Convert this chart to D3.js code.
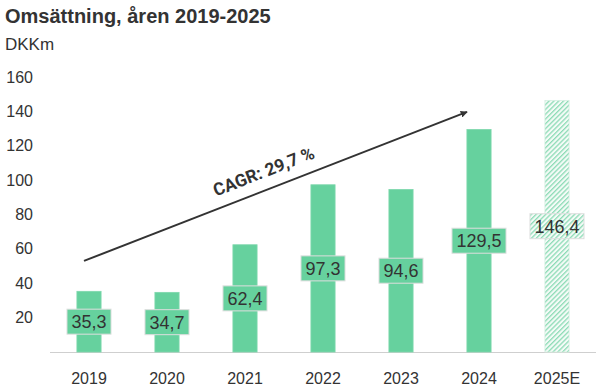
<!DOCTYPE html>
<html lang="sv">
<head>
<meta charset="UTF-8">
<title>Omsättning, åren 2019-2025</title>
<script src="https://d3js.org/d3.v7.min.js"></script>
<style>
    body { margin: 0; background: #fff; }
    svg text { font-family: Arial, "Liberation Sans", sans-serif; fill: #333; }
</style>
</head>
<body>
<div id="chart"></div>
<script>
// data
const years = ["2019", "2020", "2021", "2022", "2023", "2024", "2025E"];
const revenue = [35.3, 34.7, 62.4, 97.3, 94.6, 129.5, 146.4];
const forecast = [false, false, false, false, false, false, true];
const yTicks = [20, 40, 60, 80, 100, 120, 140, 160];
const cagrLabel = "CAGR: 29,7 %";
// arrow start/end in data units (year, offset px, value)
const cagrFrom = ["2019", -5, 53];
const cagrTo = ["2024", -12, 139.7];

const width = 607, height = 388;
const fmt = v => v.toFixed(1).replace(".", ",");

const svg = d3.select("#chart").append("svg")
    .attr("width", width)
    .attr("height", height);

// hatch pattern for the forecast bar
const defs = svg.append("defs");
const pat = defs.append("pattern")
    .attr("id", "hatch")
    .attr("patternUnits", "userSpaceOnUse")
    .attr("width", 3.4).attr("height", 3.4)
    .attr("patternTransform", "rotate(45)");
pat.append("rect").attr("width", 3.4).attr("height", 3.4).attr("fill", "#f4fbf7");
pat.append("rect").attr("width", 1.3).attr("height", 3.4).attr("fill", "#8ddbb6");

const x = d3.scaleBand()
    .domain(years)
    .range([50, 596])
    .paddingInner(0.69)
    .paddingOuter(0.345);

const y = d3.scaleLinear()
    .domain([0, 160])
    .range([352, 77]);

// title
svg.append("text")
    .attr("x", 5).attr("y", 23)
    .style("font-size", "20px")
    .style("font-weight", "bold")
    .text("Omsättning, åren 2019-2025");

svg.append("text")
    .attr("x", 5).attr("y", 50)
    .style("font-size", "17px")
    .text("DKKm");

// y axis labels
svg.append("g").selectAll("text")
    .data(yTicks)
    .join("text")
    .attr("x", 33)
    .attr("y", d => y(d))
    .attr("dy", "0.35em")
    .attr("text-anchor", "end")
    .style("font-size", "16px")
    .text(d => d);

// baseline
svg.append("line")
    .attr("x1", 50).attr("x2", 596)
    .attr("y1", y(0) + 0.5).attr("y2", y(0) + 0.5)
    .attr("stroke", "#cfcfcf");

const data = years.map((yr, i) => ({ yr, v: revenue[i], f: forecast[i] }));

// bars
svg.append("g").selectAll("rect")
    .data(data)
    .join("rect")
    .attr("x", d => x(d.yr))
    .attr("y", d => y(d.v))
    .attr("width", x.bandwidth())
    .attr("height", d => y(0) - y(d.v))
    .attr("fill", d => d.f ? "url(#hatch)" : "#66d19e")
    .attr("stroke", d => d.f ? "#d6efe2" : "#7fd8ad")
    .attr("stroke-width", 0.8);

// value labels in boxes
const lab = svg.append("g").selectAll("g")
    .data(data)
    .join("g")
    .attr("transform", d => `translate(${x(d.yr) + x.bandwidth() / 2},${y(d.v / 2)})`);

lab.append("text")
    .attr("text-anchor", "middle")
    .attr("dy", "0.36em")
    .style("font-size", "18px")
    .text(d => fmt(d.v))
    .each(function (d) { d.tw = this.getComputedTextLength(); });

lab.insert("rect", "text")
    .attr("x", d => -(d.tw / 2 + 4.5))
    .attr("y", -12.5)
    .attr("width", d => d.tw + 9)
    .attr("height", 25)
    .attr("fill", d => d.f ? "url(#hatch)" : "#66d19e")
    .attr("stroke", "#dedede")
    .attr("stroke-width", 1);

// x axis labels
svg.append("g").selectAll("text")
    .data(years)
    .join("text")
    .attr("x", d => x(d) + x.bandwidth() / 2)
    .attr("y", 384)
    .attr("text-anchor", "middle")
    .style("font-size", "16px")
    .text(d => d);

// CAGR arrow
defs.append("marker")
    .attr("id", "arrow")
    .attr("viewBox", "0 0 10 10")
    .attr("refX", 9).attr("refY", 5)
    .attr("markerWidth", 7).attr("markerHeight", 7)
    .attr("orient", "auto")
    .attr("markerUnits", "userSpaceOnUse")
    .append("path")
    .attr("d", "M0,0 L10,5 L0,10 z")
    .attr("fill", "#333");

const cx = c => x(c[0]) + x.bandwidth() / 2 + c[1];
const x1 = cx(cagrFrom), y1 = y(cagrFrom[2]);
const x2 = cx(cagrTo), y2 = y(cagrTo[2]);

svg.append("line")
    .attr("x1", x1).attr("y1", y1)
    .attr("x2", x2).attr("y2", y2)
    .attr("stroke", "#333")
    .attr("stroke-width", 2)
    .attr("marker-end", "url(#arrow)");

const ang = Math.atan2(y2 - y1, x2 - x1) * 180 / Math.PI;
const t = 0.475;
svg.append("text")
    .attr("transform", `translate(${x1 + (x2 - x1) * t},${y1 + (y2 - y1) * t - 13}) rotate(${ang})`)
    .attr("text-anchor", "middle")
    .style("font-family", "Roboto, Arial, sans-serif")
    .style("font-size", "17.5px")
    .style("font-weight", "bold")
    .text(cagrLabel);
</script>
</body>
</html>
